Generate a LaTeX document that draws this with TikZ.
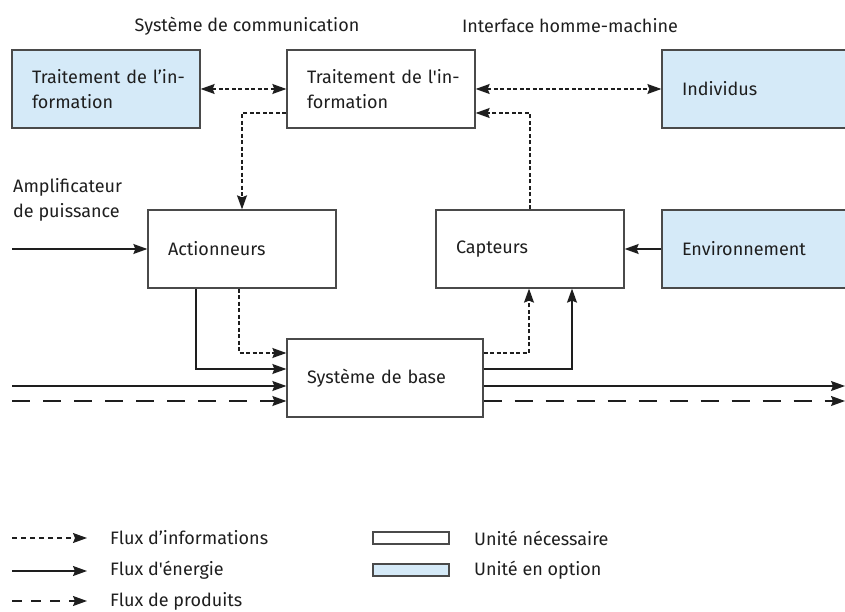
\documentclass[tikz,border=0pt]{standalone}
\usepackage{fontspec}
\setmainfont{Fira Sans}[Ligatures=TeXOff]
\usetikzlibrary{arrows.meta,calc}
\definecolor{optblue}{HTML}{D5EAF8}
\definecolor{boxline}{HTML}{4A4A4A}
\definecolor{flowline}{HTML}{1E1E1E}
\tikzset{
  txt/.style={font=\fontsize{18}{25}\selectfont, text=flowline},
  unit/.style={txt, draw=boxline, line width=1.3pt, fill=white, inner xsep=20pt,
    align=left, minimum height=78pt, text width=148pt, minimum width=188pt},
  optunit/.style={unit, fill=optblue},
  tip/.style={-{Stealth[length=14pt,width=10pt,inset=2pt]}},
  bitip/.style={{Stealth[length=14pt,width=10pt,inset=2pt]}-{Stealth[length=14pt,width=10pt,inset=2pt]}},
  info/.style={draw=flowline, line width=1.1pt, dash pattern=on 4pt off 2.5pt},
  infoleg/.style={draw=flowline, line width=1.1pt, dash pattern=on 5pt off 4pt},
  energy/.style={draw=flowline, line width=1.2pt},
  product/.style={draw=flowline, line width=1.2pt, dash pattern=on 18pt off 13pt},
  productleg/.style={draw=flowline, line width=1.2pt, dash pattern=on 10pt off 9pt},
  label/.style={txt, inner sep=0pt, align=left}
}
\begin{document}
\begin{tikzpicture}[x=1pt,y=-1pt]
\useasboundingbox (0,0) rectangle (845,612);
\clip (0,0) rectangle (845,612);

% titles
\node[label] (t1) at (247,26) {Système de communication};
\node[label] (t2) at (570,26) {Interface homme-machine};

% boxes
\node[optunit] (ti1) at (106,89) {\mbox{Traitement de l’in-}\\formation};
\node[unit] (ti2) at (381,89) {\mbox{Traitement de l'in-}\\formation};
\node[optunit] (ind) at (756,89) {Individus};
\node[unit] (act) at (242,249) {Actionneurs};
\node[unit] (cap) at (530,249) {Capteurs};
\node[optunit] (env) at (756,249) {Environnement};
\node[unit, minimum width=196pt, text width=156pt] (sys) at (385,378) {Système de base};

\node[label, anchor=west] (amp) at (13,200) {Amplificateur\\de puissance};

% information connectors
\draw[info, bitip] (ti1.east) -- (ti2.west);
\draw[info, bitip] (ti2.east) -- (ind.west);
\draw[info, tip] ([yshift=-24pt]ti2.west) -| (act.north);
\draw[info, tip] (cap.north) |- ([yshift=-24pt]ti2.east);
\draw[info, tip] ([xshift=-3pt]act.south) |- ([yshift=25pt]sys.west);
\draw[info, tip] ([yshift=25pt]sys.east) -| ([xshift=-1pt]cap.south);

% energy connectors
\coordinate (ampin) at (12,249);
\draw[energy, tip] (ampin) -- (act.west);
\draw[energy, tip] (env.west) -- (cap.east);
\draw[energy, tip] ([xshift=-46pt]act.south) |- ([yshift=9pt]sys.west);
\draw[energy, tip] ([yshift=9pt]sys.east) -| ([xshift=42pt]cap.south);
\coordinate (ein) at (12,386);
\coordinate (eout) at (845,386);
\draw[energy, tip] (ein) -- ([yshift=-8pt]sys.west);
\draw[energy, tip] ([yshift=-8pt]sys.east) -- (eout);

% product connectors
\coordinate (pin) at (12,401);
\coordinate (pout) at (845,401);
\draw[product, tip] (pin) -- ([yshift=-23pt]sys.west);
\draw[product, tip] ([yshift=-23pt]sys.east) -- (pout);

% legend
\coordinate (l1a) at (12,538); \coordinate (l1b) at (87,538);
\coordinate (l2a) at (12,571); \coordinate (l2b) at (87,571);
\coordinate (l3a) at (12,601); \coordinate (l3b) at (87,601);
\draw[infoleg, tip] (l1a) -- (l1b);
\draw[energy, tip] (l2a) -- (l2b);
\draw[productleg, tip] (l3a) -- (l3b);
\node[label, anchor=west] (lt1) at (110,538) {Flux d’informations};
\node[label, anchor=west] (lt2) at (110,570) {Flux d'énergie};
\node[label, anchor=west] (lt3) at (110,601) {Flux de produits};

\node[draw=boxline, line width=1.2pt, fill=white, minimum width=76pt, minimum height=12pt, inner sep=0pt] (lr1) at (411,538) {};
\node[draw=boxline, line width=1.2pt, fill=optblue, minimum width=76pt, minimum height=12pt, inner sep=0pt] (lr2) at (411,570) {};
\node[label, anchor=west] (lu1) at (474,538) {Unité nécessaire};
\node[label, anchor=west] (lu2) at (474,570) {Unité en option};
\end{tikzpicture}
\end{document}
